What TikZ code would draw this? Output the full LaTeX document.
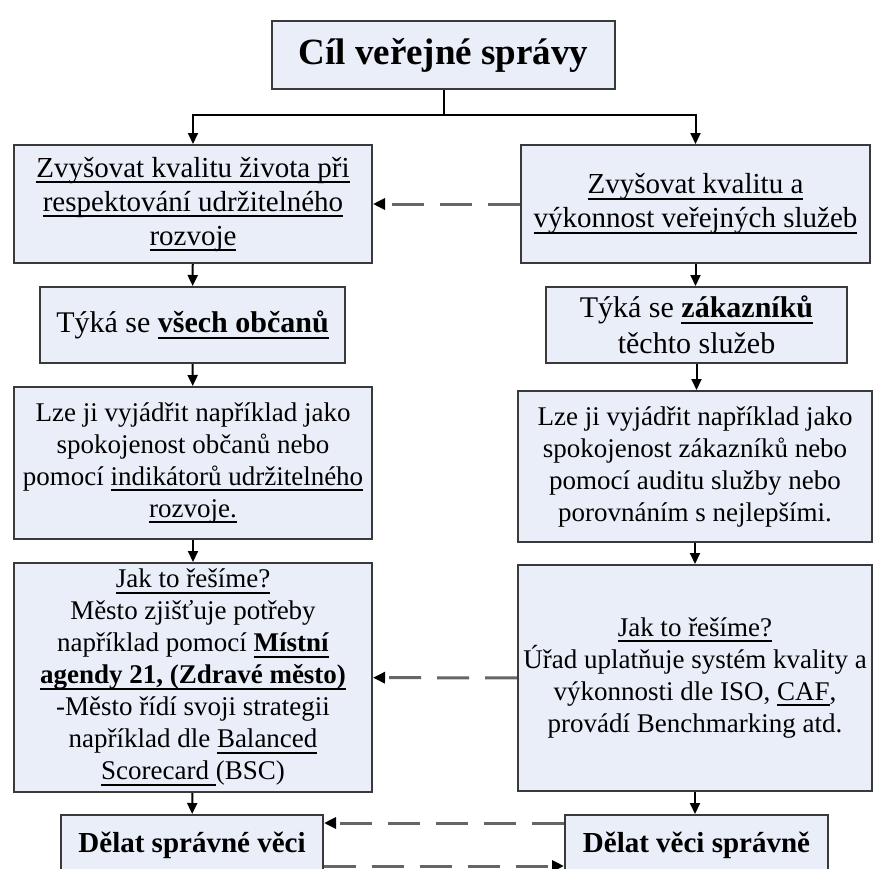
\documentclass[tikz,border=0pt]{standalone}
\usepackage{fontspec}
\setmainfont{Liberation Serif}
\usepackage{tikz}
\usetikzlibrary{positioning,arrows.meta}
\definecolor{boxfill}{HTML}{E9EEF8}
\definecolor{boxline}{HTML}{3A3A3A}
\definecolor{dashgray}{HTML}{666666}
\newcommand{\undl}[1]{\leavevmode\setbox0=\hbox{#1}\rlap{\vrule width\wd0 height -4pt depth 6pt}\box0}

\begin{document}
\begin{tikzpicture}[x=1pt, y=-1pt,
  box/.style={draw=boxline, line width=2pt, fill=boxfill, align=center, inner sep=0pt,
              font=\fontsize{27}{32}\selectfont},
  head/.style={box, font=\fontsize{29}{34}\selectfont},
  key/.style={box, font=\bfseries\fontsize{29}{34}\selectfont},
  arr/.style={-{Triangle[length=11pt, width=10pt]}, line width=2pt},
  dsh/.style={-{Triangle[length=12pt, width=11pt, black]}, draw=dashgray, line width=3pt,
              dash pattern=on 32pt off 16pt}]
  \clip (0,0) rectangle (873,868);
  % pixel grid, y grows downwards; left column x=193, right column x=696
  \node[box, font=\bfseries\fontsize{37}{42}\selectfont, minimum width=343, minimum height=68]
    (goal) at (443.5,55) {Cíl veřejné správy};
  \node[head, minimum width=358, minimum height=118] (life) at (193,204)
    {\undl{Zvyšovat kvalitu života při}\\ \undl{respektování udržitelného}\\ \undl{rozvoje}};
  \node[head, minimum width=349, minimum height=118] (serv) at (695.5,204)
    {\undl{Zvyšovat kvalitu a}\\ \undl{výkonnost veřejných služeb}};
  \node[head, font=\fontsize{30}{36}\selectfont, minimum width=305, minimum height=76] (citz) at (192.5,325)
    {Týká se \undl{\textbf{všech občanů}}};
  \node[head, font=\fontsize{30}{36}\selectfont, minimum width=301, minimum height=76] (cust) at (696.5,325)
    {Týká se \undl{\textbf{zákazníků}}\\ těchto služeb};
  \node[box, minimum width=358, minimum height=152] (meas) at (193,463)
    {Lze ji vyjádřit například jako\\ spokojenost občanů nebo\\ pomocí \undl{indikátorů udržitelného}\\ \undl{rozvoje.}};
  \node[box, minimum width=354, minimum height=151] (msat) at (695,466.5)
    {Lze ji vyjádřit například jako\\ spokojenost zákazníků nebo\\ pomocí auditu služby nebo\\ porovnáním s nejlepšími.};
  \node[box, minimum width=358, minimum height=229] (howc) at (193,677.5)
    {\undl{Jak to řešíme?}\\ Město zjišťuje potřeby\\ například pomocí \undl{\textbf{Místní}}\\
     \undl{\textbf{agendy 21, (Zdravé město)}}\\ -Město řídí svoji strategii\\
     například dle \undl{Balanced}\\ \undl{Scorecard\ }(BSC)};
  \node[box, minimum width=354, minimum height=226] (howo) at (695,678)
    {\undl{Jak to řešíme?}\\ Úřad uplatňuje systém kvality a\\ výkonnosti dle ISO, \undl{CAF},\\ provádí Benchmarking atd.};
  \node[key, minimum width=262, minimum height=60] (right) at (192,845) {Dělat správné věci};
  \node[key, minimum width=263, minimum height=60] (well) at (696.5,845) {Dělat věci správně};
  \coordinate (fork) at (443.5,115);
  \draw[line width=2pt] (goal) -- (fork);
  \draw[arr] (fork) -| (life.north);
  \draw[arr] (fork) -| (serv.north);
  \draw[arr] (life) -- (citz);
  \draw[arr] (citz) -- (meas);
  \draw[arr] (meas) -- (howc);
  \draw[arr] (howc) -- (right);
  \draw[arr] (serv.south) -- (serv.south |- cust.north);
  \draw[arr] (cust.south) -- (cust.south |- msat.north);
  \draw[arr] (msat.south) -- (msat.south |- howo.north);
  \draw[arr] (howo.south) -- (howo.south |- well.north);
  \draw[dsh] (serv) -- (life);
  \draw[dsh] (howo) -- (howc);
  \draw[dsh] ([yshift=22pt]well.west) -- ([yshift=22pt]right.east);
  \draw[dsh] ([yshift=-21pt]right.east) -- ([yshift=-21pt]well.west);
\end{tikzpicture}
\end{document}
